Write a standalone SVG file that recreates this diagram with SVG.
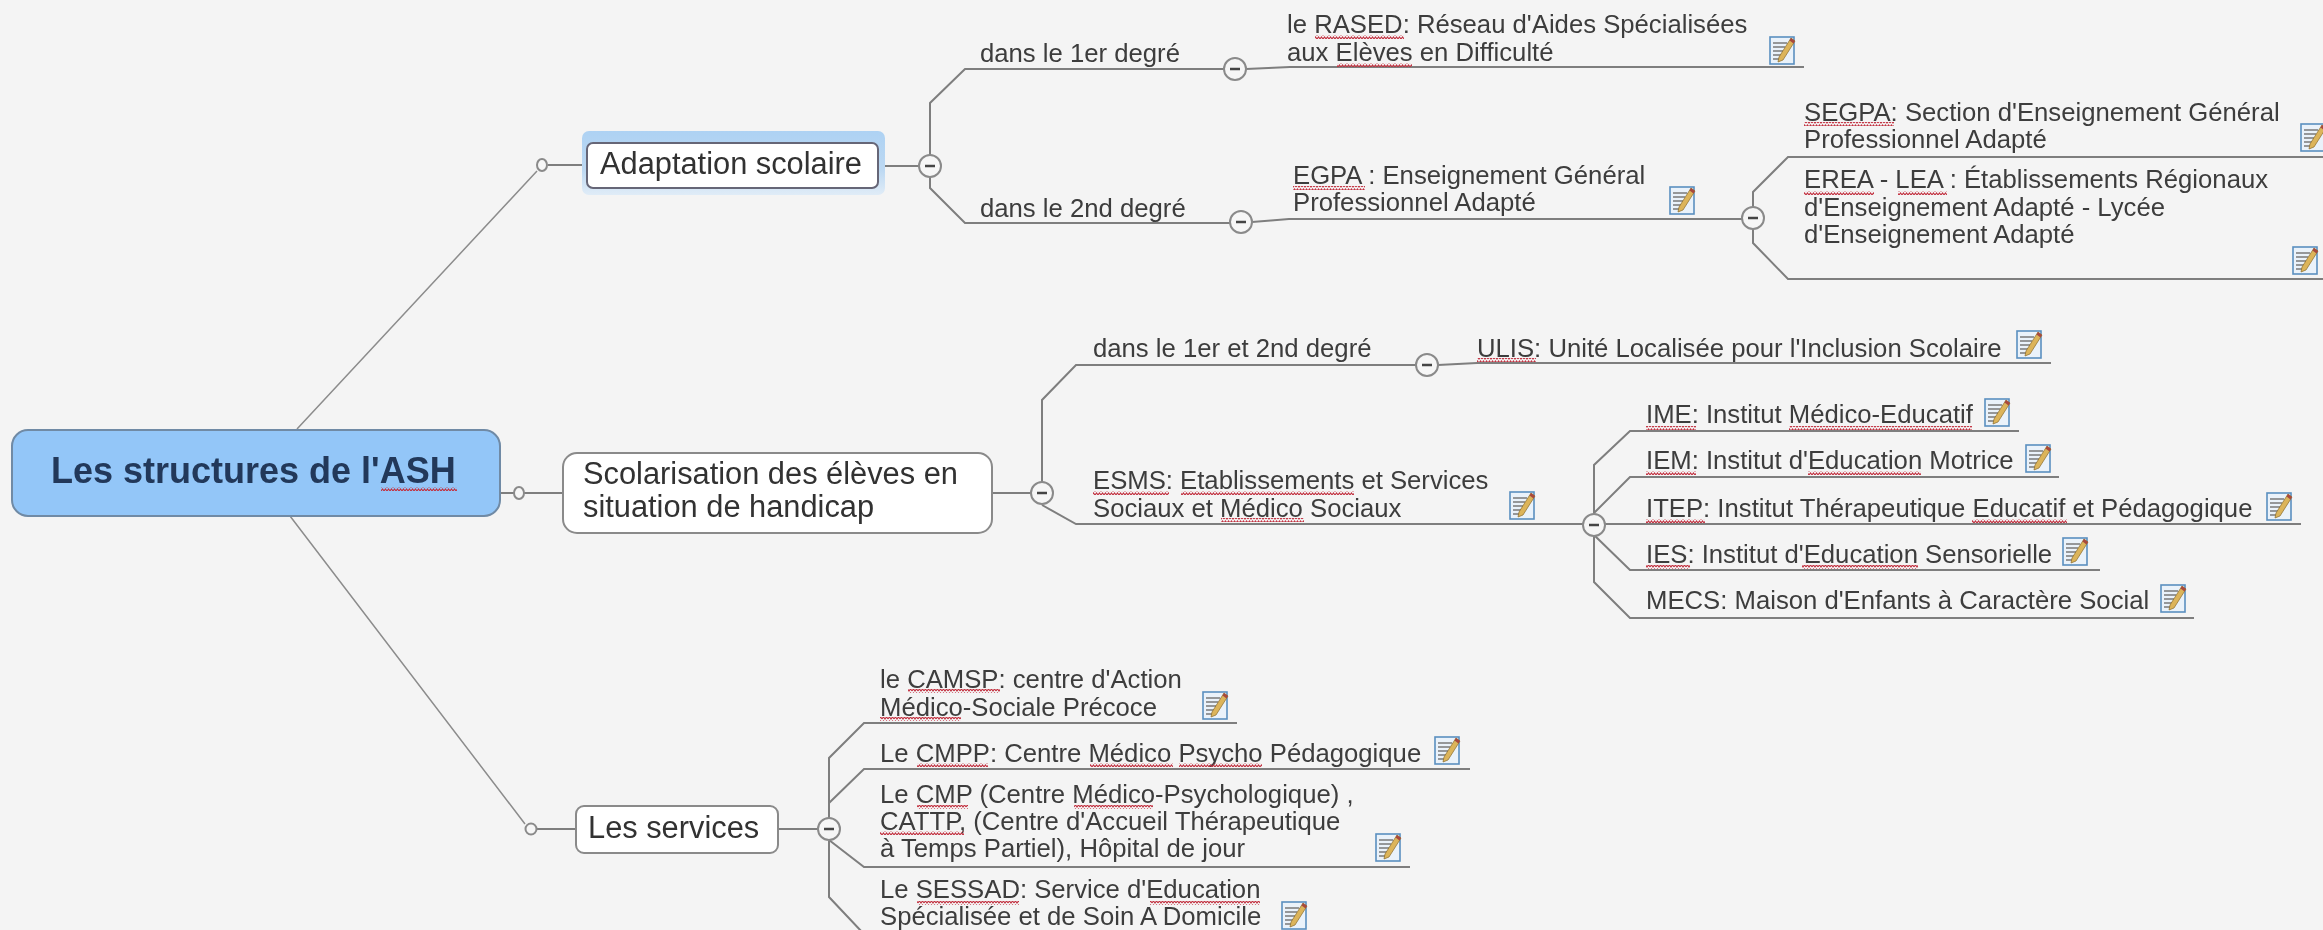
<svg xmlns="http://www.w3.org/2000/svg" width="2323" height="930" viewBox="0 0 2323 930">
<style>
text{font-family:"Liberation Sans",Arial,sans-serif;fill:#3c3c3c;font-size:25.7px}
.t1{font-size:30.8px;fill:#303030}
.root{font-size:36px;font-weight:bold;fill:#22395a}
.box{fill:#fff;stroke:#8a8a8a;stroke-width:2}
.c{fill:none;stroke:#7e7e7e;stroke-width:2}
.thin{fill:none;stroke:#8c8c8c;stroke-width:1.5}
.tg{fill:#f6f6f6;stroke:#8a8a8a;stroke-width:2}
.m{stroke:#444;stroke-width:2.5}
.w{fill:url(#wave)}
</style>
<defs>
<filter id="soft" x="-2%" y="-2%" width="104%" height="104%"><feGaussianBlur stdDeviation="0.5"/></filter>
<linearGradient id="glow" x1="0" y1="0" x2="0" y2="1"><stop offset="0" stop-color="#aed2f3"/><stop offset="0.6" stop-color="#bcd8f2"/><stop offset="1" stop-color="#e0ecf7"/></linearGradient>
<pattern id="wave" patternUnits="userSpaceOnUse" width="6" height="4"><path d="M0 3 L1.5 1 L3 3 L4.5 1 L6 3" fill="none" stroke="#c2303f" stroke-width="1.1"/></pattern>
<symbol id="note" viewBox="0 0 27 29">
<rect x="1" y="1" width="24" height="27" fill="#eaf2fa" stroke="#5a8fc0" stroke-width="1.6"/>
<path d="M4 7h14M4 11h12M4 15h10M4 19h8M4 23h7" stroke="#7a7a7a" stroke-width="1.5" fill="none"/>
<polygon points="22,2 26,5 14,24 9,26 10,21" fill="#dcb45a" stroke="#8a6a2a" stroke-width="0.7"/>
<polygon points="22,2 26,5 24.5,7.5 20.5,4.5" fill="#a8483e"/>
</symbol>
</defs>
<rect width="2323" height="930" fill="#f4f4f4"/>
<g filter="url(#soft)">
<g id="connectors">
<path class="thin" d="M297 429L537 171M290 516L525 824"/>
<path class="c" d="M500 493H563M548 165H587M880 166H919M537 829H576M778 829H818M992 493H1031"/>
<path class="c" d="M930 155V103L965 69H1224M1246 69L1290 67H1804"/>
<path class="c" d="M930 177V188L965 223H1230M1252 222L1289 219H1742"/>
<path class="c" d="M1753 207V192L1788 157H2323M1753 229V243L1788 279H2323"/>
<path class="c" d="M1042 482V400L1076 365H1416M1438 365L1477 363H2051"/>
<path class="c" d="M1042 505L1076 524H1584M1604 524H2301"/>
<path class="c" d="M1594 515V465L1630 431H2019M1594 513L1630 477H2059M1594 535L1630 570H2100M1594 535V582L1630 618H2194"/>
<path class="c" d="M829 818V758L864 723H1237M829 803L864 769H1470M829 840L864 867H1410M829 841V897L862 932"/>
<g id="toggles">
<ellipse class="tg" cx="519" cy="493" rx="5" ry="6"/>
<ellipse class="tg" cx="542" cy="165" rx="5" ry="6"/>
<circle class="tg" cx="531" cy="829" r="5.5"/>
<circle class="tg" cx="930" cy="166" r="11"/><path class="m" d="M925 166h10"/>
<circle class="tg" cx="1235" cy="69" r="11"/><path class="m" d="M1230 69h10"/>
<circle class="tg" cx="1241" cy="222" r="11"/><path class="m" d="M1236 222h10"/>
<circle class="tg" cx="1753" cy="218" r="11"/><path class="m" d="M1748 218h10"/>
<circle class="tg" cx="1042" cy="493" r="11"/><path class="m" d="M1037 493h10"/>
<circle class="tg" cx="1427" cy="365" r="11"/><path class="m" d="M1422 365h10"/>
<circle class="tg" cx="1594" cy="525" r="11"/><path class="m" d="M1589 525h10"/>
<circle class="tg" cx="829" cy="829" r="11"/><path class="m" d="M824 829h10"/>
</g>
</g>
<g id="n-root">
<rect x="12" y="430" width="488" height="86" rx="16" fill="#93c6f8" stroke="#6f8aa5" stroke-width="2"/>
<text class="root" x="51" y="483">Les structures de l'ASH</text>
<rect class="w" x="381" y="487" width="76" height="4"/>
</g>
<g id="n-adaptation">
<rect x="582" y="131" width="303" height="64" rx="7" fill="url(#glow)"/>
<rect class="box" x="587" y="143" width="291" height="45" rx="6" style="stroke:#667"/>
<text class="t1" x="600" y="174">Adaptation scolaire</text>
</g>
<g id="n-scolarisation">
<rect class="box" x="563" y="453" width="429" height="80" rx="14"/>
<text class="t1" x="583" y="484">Scolarisation des élèves en</text>
<text class="t1" x="583" y="517">situation de handicap</text>
</g>
<g id="n-services">
<rect class="box" x="576" y="806" width="202" height="47" rx="8"/>
<text class="t1" x="588" y="838">Les services</text>
</g>
<g id="n-1er"><text x="980" y="62">dans le 1er degré</text></g>
<g id="n-2nd"><text x="980" y="217">dans le 2nd degré</text></g>
<g id="n-rased">
<text x="1287" y="33">le RASED: Réseau d'Aides Spécialisées</text>
<text x="1287" y="61">aux Elèves en Difficulté</text>
<rect class="w" x="1315" y="35" width="89" height="4"/><rect class="w" x="1337" y="63" width="75" height="4"/>
<use href="#note" x="1769" y="36" width="27" height="29"/>
</g>
<g id="n-egpa">
<text x="1293" y="184">EGPA : Enseignement Général</text>
<text x="1293" y="211">Professionnel Adapté</text>
<rect class="w" x="1293" y="186" width="72" height="4"/>
<use href="#note" x="1669" y="186" width="27" height="29"/>
</g>
<g id="n-segpa">
<text x="1804" y="121">SEGPA: Section d'Enseignement Général</text>
<text x="1804" y="148">Professionnel Adapté</text>
<rect class="w" x="1804" y="122" width="90" height="4"/>
<use href="#note" x="2300" y="123" width="27" height="29"/>
</g>
<g id="n-erea">
<text x="1804" y="188">EREA - LEA : Établissements Régionaux</text>
<text x="1804" y="216">d'Enseignement Adapté - Lycée</text>
<text x="1804" y="243">d'Enseignement Adapté</text>
<rect class="w" x="1804" y="191" width="70" height="4"/><rect class="w" x="1898" y="191" width="49" height="4"/>
<use href="#note" x="2292" y="246" width="27" height="29"/>
</g>
<g id="n-12"><text x="1093" y="357">dans le 1er et 2nd degré</text></g>
<g id="n-ulis">
<text x="1477" y="357">ULIS: Unité Localisée pour l'Inclusion Scolaire</text>
<rect class="w" x="1477" y="358" width="59" height="4"/>
<use href="#note" x="2016" y="330" width="27" height="29"/>
</g>
<g id="n-esms">
<text x="1093" y="489">ESMS: Etablissements et Services</text>
<text x="1093" y="517">Sociaux et Médico Sociaux</text>
<rect class="w" x="1093" y="491" width="76" height="4"/><rect class="w" x="1181" y="491" width="173" height="4"/><rect class="w" x="1221" y="518" width="83" height="4"/>
<use href="#note" x="1509" y="491" width="27" height="29"/>
</g>
<g id="n-ime">
<text x="1646" y="423">IME: Institut Médico-Educatif</text>
<rect class="w" x="1646" y="426" width="50" height="4"/><rect class="w" x="1789" y="426" width="183" height="4"/>
<use href="#note" x="1984" y="398" width="27" height="29"/>
</g>
<g id="n-iem">
<text x="1646" y="469">IEM: Institut d'Education Motrice</text>
<rect class="w" x="1646" y="471" width="50" height="4"/><rect class="w" x="1808" y="471" width="113" height="4"/>
<use href="#note" x="2025" y="444" width="27" height="29"/>
</g>
<g id="n-itep">
<text x="1646" y="517">ITEP: Institut Thérapeutique Educatif et Pédagogique</text>
<rect class="w" x="1646" y="519" width="59" height="4"/><rect class="w" x="1972" y="519" width="95" height="4"/>
<use href="#note" x="2266" y="492" width="27" height="29"/>
</g>
<g id="n-ies">
<text x="1646" y="563">IES: Institut d'Education Sensorielle</text>
<rect class="w" x="1646" y="565" width="44" height="4"/><rect class="w" x="1802" y="565" width="116" height="4"/>
<use href="#note" x="2062" y="537" width="27" height="29"/>
</g>
<g id="n-mecs">
<text x="1646" y="609">MECS: Maison d'Enfants à Caractère Social</text>
<use href="#note" x="2160" y="584" width="27" height="29"/>
</g>
<g id="n-camsp">
<text x="880" y="688">le CAMSP: centre d'Action</text>
<text x="880" y="716">Médico-Sociale Précoce</text>
<rect class="w" x="908" y="689" width="92" height="4"/><rect class="w" x="880" y="717" width="81" height="4"/>
<use href="#note" x="1202" y="691" width="27" height="29"/>
</g>
<g id="n-cmpp">
<text x="880" y="762">Le CMPP: Centre Médico Psycho Pédagogique</text>
<rect class="w" x="917" y="763" width="71" height="4"/><rect class="w" x="1090" y="763" width="83" height="4"/><rect class="w" x="1179" y="763" width="83" height="4"/>
<use href="#note" x="1434" y="736" width="27" height="29"/>
</g>
<g id="n-cmp">
<text x="880" y="803">Le CMP (Centre Médico-Psychologique) ,</text>
<text x="880" y="830">CATTP, (Centre d'Accueil Thérapeutique</text>
<text x="880" y="857">à Temps Partiel), Hôpital de jour</text>
<rect class="w" x="917" y="805" width="51" height="4"/><rect class="w" x="1074" y="805" width="79" height="4"/><rect class="w" x="880" y="831" width="84" height="4"/>
<use href="#note" x="1375" y="833" width="27" height="29"/>
</g>
<g id="n-sessad">
<text x="880" y="898">Le SESSAD: Service d'Education</text>
<text x="880" y="925">Spécialisée et de Soin A Domicile</text>
<rect class="w" x="917" y="901" width="102" height="4"/><rect class="w" x="1150" y="901" width="110" height="4"/>
<use href="#note" x="1281" y="901" width="27" height="29"/>
</g>
</g>
</svg>
